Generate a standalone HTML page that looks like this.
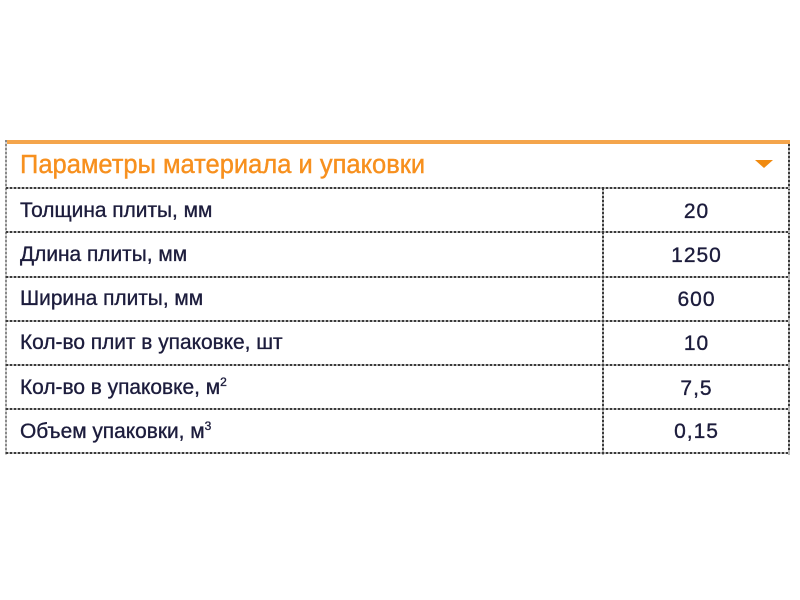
<!DOCTYPE html>
<html><head><meta charset="utf-8">
<style>
html,body{margin:0;padding:0;background:#fff;}
body{width:800px;height:600px;position:relative;overflow:hidden;font-family:"Liberation Sans","DejaVu Sans",sans-serif;}
.bar{position:absolute;left:6px;top:140px;width:784px;height:4px;background:#f4a54c;}
.h{position:absolute;left:6px;width:784px;height:2px;background:repeating-linear-gradient(90deg,#3a3a3a 0 2px,#b5b5b5 2px 4px);}
.v{position:absolute;width:2px;background:repeating-linear-gradient(180deg,#3a3a3a 0 2px,#b5b5b5 2px 4px);}
.vl{position:absolute;width:2px;background:repeating-linear-gradient(180deg,#8a8a8a 0 2px,#d0d0d0 2px 4px);}
.title{position:absolute;left:20px;top:153px;font-size:25.5px;line-height:1;color:#f7901e;white-space:nowrap;-webkit-text-stroke:0.4px #f7901e;}
.tri{position:absolute;left:755px;top:160px;width:0;height:0;border-left:9px solid transparent;border-right:9px solid transparent;border-top:8px solid #f08a10;}
.lab{position:absolute;left:20px;font-size:20.9px;line-height:1;color:#1c1c3c;white-space:nowrap;-webkit-text-stroke:0.35px #1c1c3c;}
.val{position:absolute;left:603px;width:187px;text-align:center;font-size:21px;line-height:1;color:#1c1c3c;letter-spacing:1px;white-space:nowrap;-webkit-text-stroke:0.35px #1c1c3c;}
sup{font-size:12px;line-height:0;vertical-align:8px;}
</style></head><body>
<div class="bar"></div>
<div class="vl" style="left:5px;top:140px;height:315px;"></div>
<div class="v" style="left:788px;top:144px;height:311px;"></div>
<div class="v" style="left:602px;top:188px;height:267px;"></div>
<div class="h" style="top:187px;"></div>
<div class="h" style="top:231px;"></div>
<div class="h" style="top:276px;"></div>
<div class="h" style="top:320px;"></div>
<div class="h" style="top:364px;"></div>
<div class="h" style="top:408px;"></div>
<div class="h" style="top:452px;"></div>

<div class="title">Параметры материала и упаковки</div>
<div class="tri"></div>

<div class="lab" style="top:201px;">Толщина плиты, мм</div>
<div class="val" style="top:201px;">20</div>

<div class="lab" style="top:245px;">Длина плиты, мм</div>
<div class="val" style="top:245px;">1250</div>

<div class="lab" style="top:289px;">Ширина плиты, мм</div>
<div class="val" style="top:289px;">600</div>

<div class="lab" style="top:333px;">Кол-во плит в упаковке, шт</div>
<div class="val" style="top:333px;">10</div>

<div class="lab" style="top:378px;">Кол-во в упаковке, м<sup>2</sup></div>
<div class="val" style="top:378px;">7,5</div>

<div class="lab" style="top:422px;">Объем упаковки, м<sup>3</sup></div>
<div class="val" style="top:421px;">0,15</div>
</body></html>
